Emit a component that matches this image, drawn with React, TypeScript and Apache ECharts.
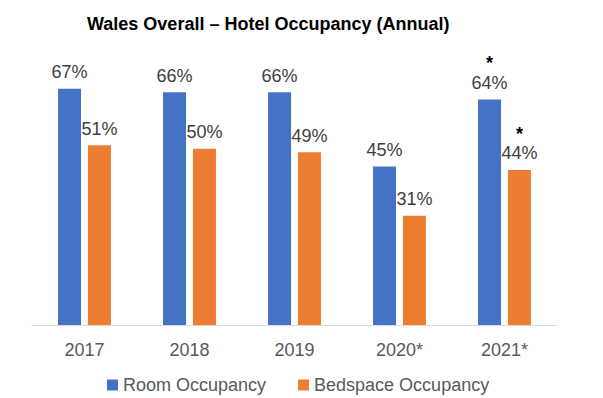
import React, { useEffect, useRef } from "react";
import * as echarts from "echarts";

const categories = ["2017", "2018", "2019", "2020*", "2021*"];
const roomOccupancy = [67, 66, 66, 45, 64];
const bedspaceOccupancy = [51, 50, 49, 31, 44];
const starredYears = ["2021*"];
const seriesNames = ["Room Occupancy", "Bedspace Occupancy"];
const titleText = "Wales Overall – Hotel Occupancy (Annual)";

const FONT = "'Liberation Sans', Arial, sans-serif";

function makeData(values: number[]) {
  return values.map((v, i) => ({
    value: v,
    star: starredYears.includes(categories[i]),
  }));
}

export default function App() {
  const ref = useRef<HTMLDivElement>(null);
  useEffect(() => {
    if (!ref.current) return;
    const chart = echarts.init(ref.current, null, { renderer: "svg" });
    const label = {
      show: true,
      position: "top",
      distance: 6,
      fontFamily: FONT,
      fontSize: 18,
      color: "#404040",
      formatter: (p: any) => {
        const star = starredYears.includes(categories[p.dataIndex]);
        return star ? `{s|*}\n{v|${p.value}%}` : `{v|${p.value}%}`;
      },
      rich: {
        s: { fontFamily: FONT, fontSize: 18, fontWeight: "bold", color: "#000000", lineHeight: 18 },
        v: { fontFamily: FONT, fontSize: 18, color: "#404040", lineHeight: 21 },
      },
    };
    chart.setOption({
      animation: false,
      backgroundColor: "#ffffff",
      title: {
        text: titleText,
        left: 82,
        top: 10,
        textStyle: { fontFamily: FONT, fontSize: 18, fontWeight: "bold", color: "#000000" },
      },
      legend: {
        data: seriesNames,
        left: 102,
        top: 371,
        itemWidth: 11,
        itemHeight: 11,
        itemGap: 32,
        icon: "rect",
        textStyle: { fontFamily: FONT, fontSize: 18, color: "#595959" },
      },
      grid: { left: 32, right: 46, top: 43, bottom: 73, containLabel: false },
      xAxis: {
        type: "category",
        data: categories,
        axisLine: { show: true, lineStyle: { color: "#D9D9D9", width: 1 } },
        axisTick: { show: false },
        axisLabel: { fontFamily: FONT, fontSize: 18, color: "#595959", margin: 16 },
      },
      yAxis: {
        type: "value",
        min: 0,
        max: 80,
        show: false,
        splitLine: { show: false },
      },
      series: [
        {
          name: seriesNames[0],
          type: "bar",
          data: makeData(roomOccupancy),
          itemStyle: { color: "#4472C4" },
          barWidth: 23,
          barGap: "30%",
          label,
        },
        {
          name: seriesNames[1],
          type: "bar",
          data: makeData(bedspaceOccupancy),
          itemStyle: { color: "#ED7D31" },
          barWidth: 23,
          label,
        },
      ],
    });
    return () => chart.dispose();
  }, []);
  return (
    <div
      ref={ref}
      style={{ position: "fixed", left: 0, top: 0, width: 603, height: 398 }}
    />
  );
}
